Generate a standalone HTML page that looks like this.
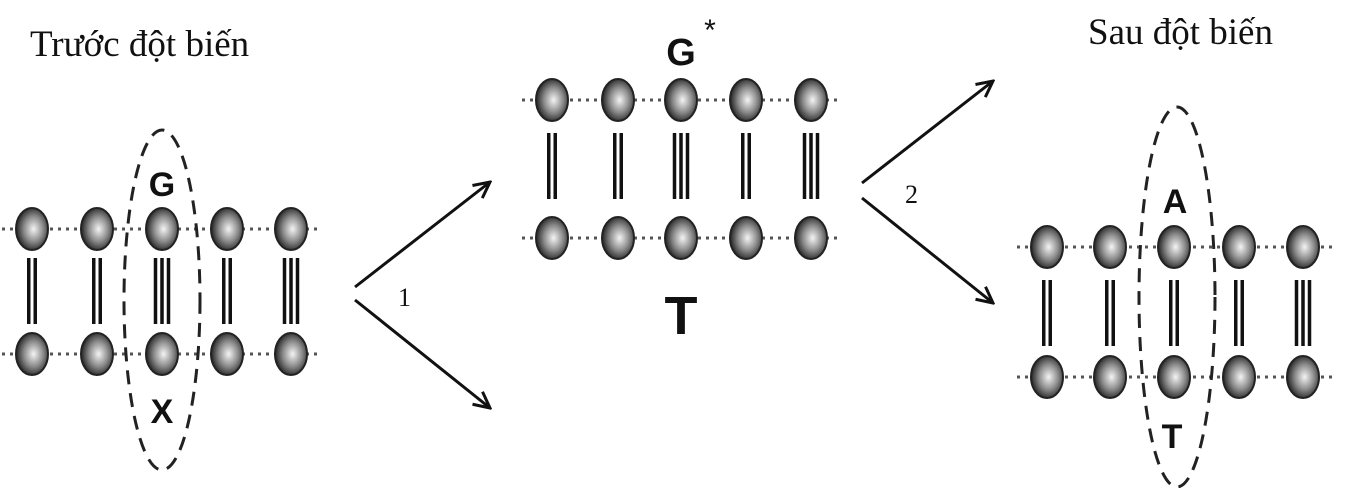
<!DOCTYPE html>
<html><head><meta charset="utf-8"><style>
html,body{margin:0;padding:0;background:#fff;}
svg{display:block;}
.t{font-family:"Liberation Serif",serif;font-size:37px;fill:#111;}
.l{font-family:"Liberation Sans",sans-serif;font-weight:bold;fill:#111;}
</style></head><body>
<svg width="1363" height="488" viewBox="0 0 1363 488" xmlns="http://www.w3.org/2000/svg" xmlns:xlink="http://www.w3.org/1999/xlink">
<defs>
<radialGradient id="b" cx="0.55" cy="0.5" r="0.55">
<stop offset="0" stop-color="#f4f4f4"/><stop offset="0.55" stop-color="#8a8a8a"/><stop offset="1" stop-color="#222"/>
</radialGradient>
<ellipse id="ball" cx="0" cy="0" rx="16" ry="21" fill="url(#b)" stroke="#222" stroke-width="2"/>
<g id="p2" stroke="#111" stroke-width="3.5"><line x1="-3.25" y1="0" x2="-3.25" y2="66"/><line x1="3.25" y1="0" x2="3.25" y2="66"/></g>
<g id="p3" stroke="#111" stroke-width="3.5"><line x1="-6.5" y1="0" x2="-6.5" y2="66"/><line x1="0" y1="0" x2="0" y2="66"/><line x1="6.5" y1="0" x2="6.5" y2="66"/></g>
<marker id="ah" viewBox="0 0 20 20" refX="18" refY="10" markerWidth="20" markerHeight="20" markerUnits="userSpaceOnUse" orient="auto">
<path d="M2,2 L18,10 L2,18" fill="none" stroke="#111" stroke-width="3"/>
</marker>
</defs>
<text class="t" x="30" y="56">Trước đột biến</text>
<text class="t" x="1088" y="44">Sau đột biến</text>

<g stroke="#555" stroke-width="3" stroke-dasharray="3,5">
<line x1="2" y1="229" x2="321" y2="229"/><line x1="2" y1="354" x2="321" y2="354"/>
<line x1="522" y1="100" x2="841" y2="100"/><line x1="522" y1="238" x2="841" y2="238"/>
<line x1="1017" y1="247" x2="1333" y2="247"/><line x1="1017" y1="377" x2="1333" y2="377"/>
</g>

<!-- strand 1 -->
<use xlink:href="#p2" x="32" y="258"/><use xlink:href="#p2" x="97" y="258"/><use xlink:href="#p3" x="162" y="258"/><use xlink:href="#p2" x="227" y="258"/><use xlink:href="#p3" x="291" y="258"/>
<use xlink:href="#ball" x="32" y="229"/><use xlink:href="#ball" x="97" y="229"/><use xlink:href="#ball" x="162" y="229"/><use xlink:href="#ball" x="227" y="229"/><use xlink:href="#ball" x="291" y="229"/>
<use xlink:href="#ball" x="32" y="354"/><use xlink:href="#ball" x="97" y="354"/><use xlink:href="#ball" x="162" y="354"/><use xlink:href="#ball" x="227" y="354"/><use xlink:href="#ball" x="291" y="354"/>

<!-- strand 2 -->
<use xlink:href="#p2" x="552" y="133" transform="translate(0,0)"/><use xlink:href="#p2" x="618" y="133"/><use xlink:href="#p3" x="681" y="133"/><use xlink:href="#p2" x="746" y="133"/><use xlink:href="#p3" x="811" y="133"/>
<use xlink:href="#ball" x="552" y="100"/><use xlink:href="#ball" x="618" y="100"/><use xlink:href="#ball" x="681" y="100"/><use xlink:href="#ball" x="746" y="100"/><use xlink:href="#ball" x="811" y="100"/>
<use xlink:href="#ball" x="552" y="238"/><use xlink:href="#ball" x="618" y="238"/><use xlink:href="#ball" x="681" y="238"/><use xlink:href="#ball" x="746" y="238"/><use xlink:href="#ball" x="811" y="238"/>

<!-- strand 3 -->
<use xlink:href="#p2" x="1047" y="280"/><use xlink:href="#p2" x="1110" y="280"/><use xlink:href="#p2" x="1174" y="280"/><use xlink:href="#p2" x="1239" y="280"/><use xlink:href="#p3" x="1303" y="280"/>
<use xlink:href="#ball" x="1047" y="247"/><use xlink:href="#ball" x="1110" y="247"/><use xlink:href="#ball" x="1174" y="247"/><use xlink:href="#ball" x="1239" y="247"/><use xlink:href="#ball" x="1303" y="247"/>
<use xlink:href="#ball" x="1047" y="377"/><use xlink:href="#ball" x="1110" y="377"/><use xlink:href="#ball" x="1174" y="377"/><use xlink:href="#ball" x="1239" y="377"/><use xlink:href="#ball" x="1303" y="377"/>

<g stroke="#111" stroke-width="3" fill="none">
<line x1="355" y1="287" x2="490" y2="182" marker-end="url(#ah)"/>
<line x1="355" y1="300" x2="490" y2="408" marker-end="url(#ah)"/>
<line x1="862" y1="183" x2="993" y2="81" marker-end="url(#ah)"/>
<line x1="862" y1="198" x2="993" y2="303" marker-end="url(#ah)"/>
</g>
<text class="t" x="398" y="306" style="font-size:26px">1</text>
<text class="t" x="905" y="203" style="font-size:26px">2</text>
<ellipse cx="162" cy="300" rx="38" ry="170" fill="none" stroke="#222" stroke-width="3" stroke-dasharray="14,9"/>
<ellipse cx="1177" cy="297" rx="38" ry="190" fill="none" stroke="#222" stroke-width="3" stroke-dasharray="14,9"/>
<text class="l" x="162" y="196" font-size="34" text-anchor="middle">G</text>
<text class="l" x="162" y="423" font-size="34" text-anchor="middle">X</text>
<text class="l" x="681" y="65" font-size="38" text-anchor="middle">G</text>
<text class="l" x="710" y="40" font-size="30" text-anchor="middle" style="font-weight:normal">*</text>
<text class="l" x="681" y="334" font-size="54" text-anchor="middle">T</text>
<text class="l" x="1175" y="213" font-size="34" text-anchor="middle">A</text>
<text class="l" x="1172" y="448" font-size="34" text-anchor="middle">T</text>
</svg>
</body></html>
